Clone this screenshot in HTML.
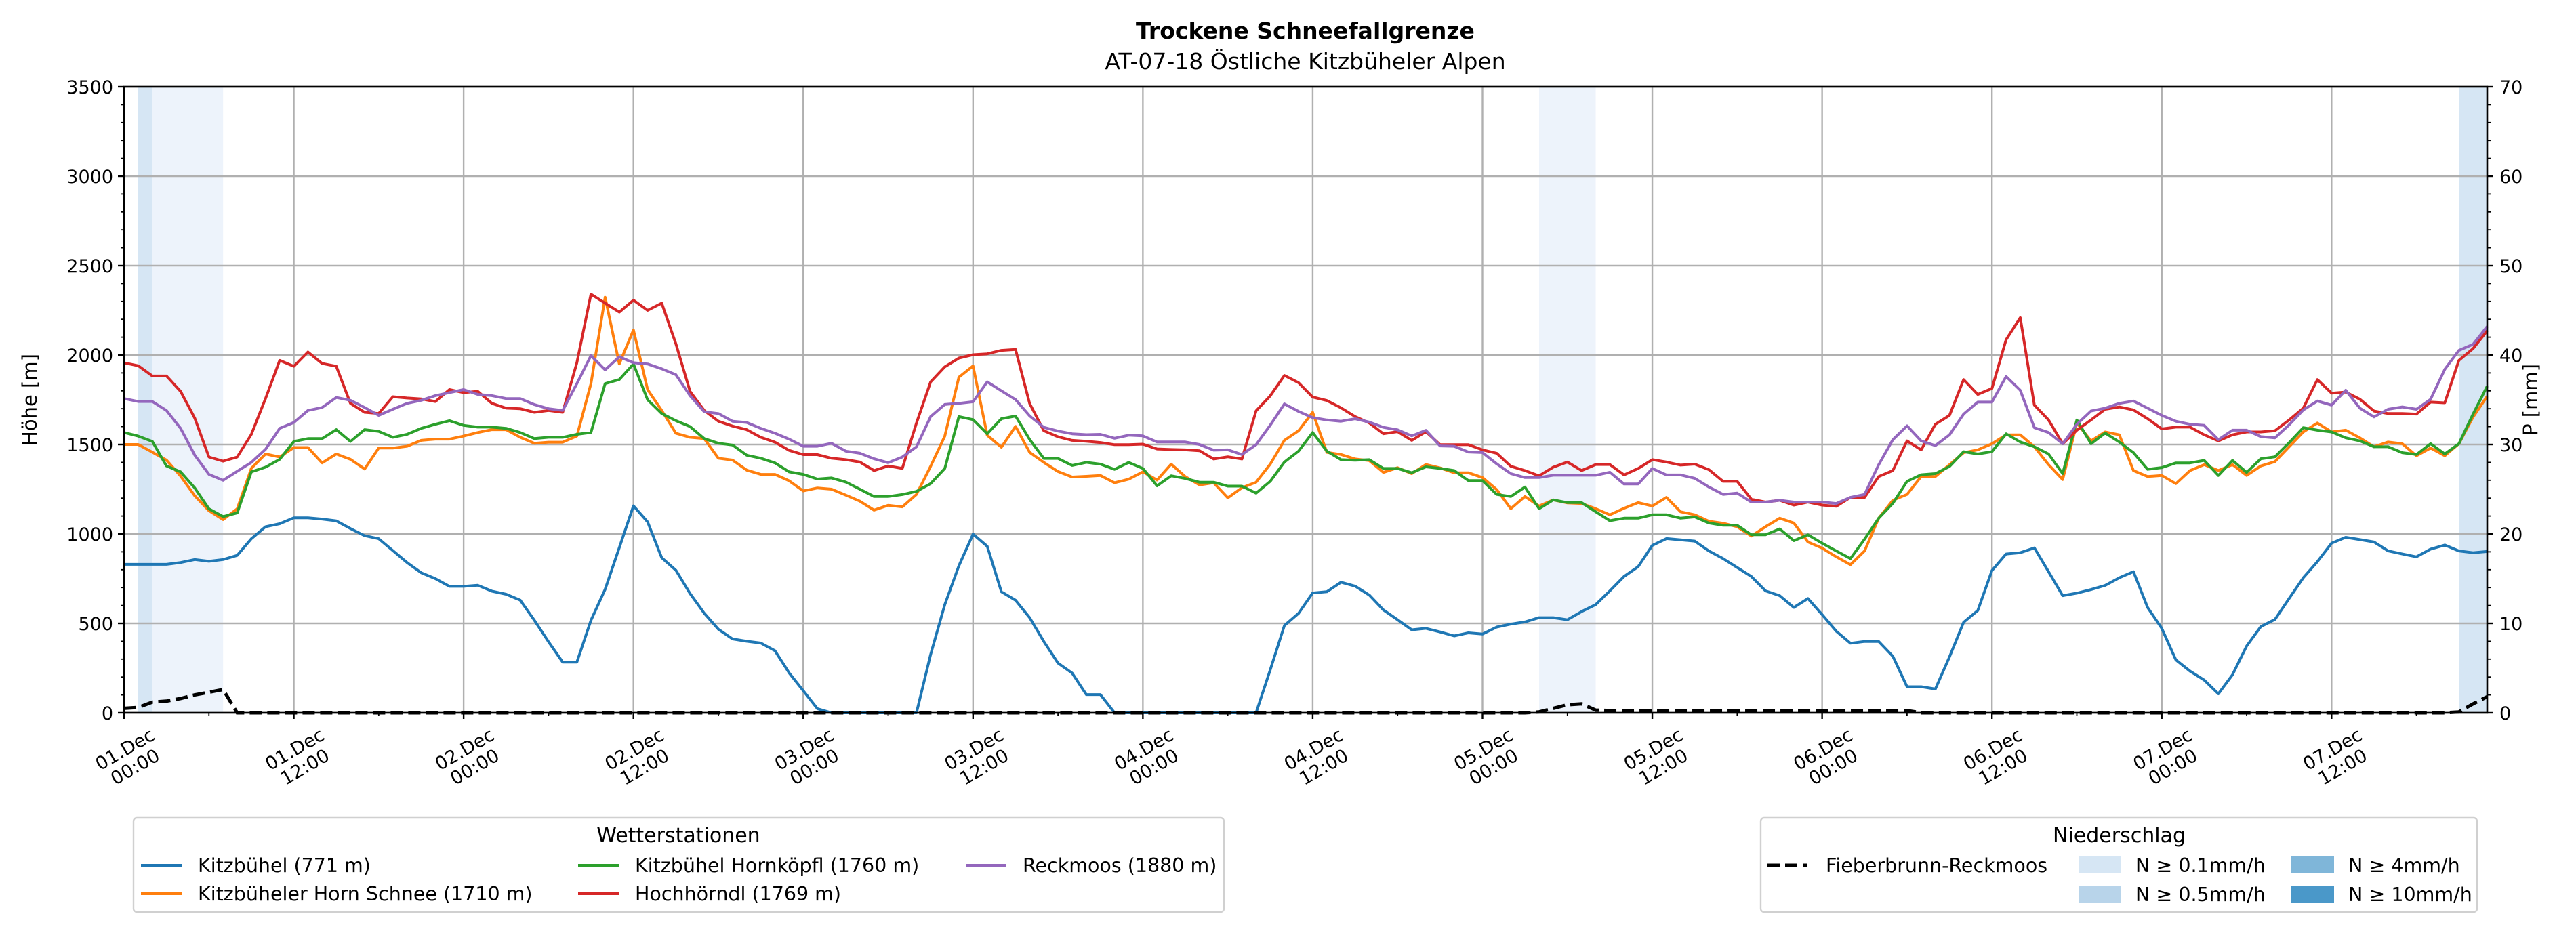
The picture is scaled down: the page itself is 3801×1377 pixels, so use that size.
<!DOCTYPE html>
<html><head><meta charset="utf-8">
<style>
html,body{margin:0;padding:0;background:#fff;}
svg{display:block;font-family:"DejaVu Sans","Liberation Sans",sans-serif;}
</style></head>
<body>
<svg id="chart" xmlns="http://www.w3.org/2000/svg" width="3801" height="1377" viewBox="0 0 3801 1377">
<rect x="0" y="0" width="3801" height="1377" fill="#fff"/>
<text x="1926" y="57" text-anchor="middle" font-size="33" font-weight="bold">Trockene Schneefallgrenze</text>
<text x="1926" y="102" text-anchor="middle" font-size="33">AT-07-18 Östliche Kitzbüheler Alpen</text>
<g id="plot"></g>
</svg>
<script>
const hours = [];
for (let i = 0; i <= 167; i++) hours.push(i);
const xTickLabels = ["01.Dec|00:00","01.Dec|12:00","02.Dec|00:00","02.Dec|12:00","03.Dec|00:00","03.Dec|12:00","04.Dec|00:00","04.Dec|12:00","05.Dec|00:00","05.Dec|12:00","06.Dec|00:00","06.Dec|12:00","07.Dec|00:00","07.Dec|12:00"];
const yTicks = [0,500,1000,1500,2000,2500,3000,3500];
const pTicks = [0,10,20,30,40,50,60,70];
const stationNames = ["Kitzbühel (771 m)","Kitzbüheler Horn Schnee (1710 m)","Kitzbühel Hornköpfl (1760 m)","Hochhörndl (1769 m)","Reckmoos (1880 m)"];
const kitzbuehel = [830,830,830,830,840,857,847,857,880,973,
1040,1057,1090,1090,1083,1073,1030,990,973,907,
840,783,750,707,707,713,680,663,630,517,
397,283,283,517,690,923,1157,1067,867,797,
667,557,467,413,400,390,347,223,123,23,
0,0,0,0,0,0,0,326,605,822,
999,931,677,629,532,399,278,222,102,102,
0,0,0,0,0,0,0,0,0,0,
0,240,488,556,670,677,730,708,658,575,
520,464,472,452,430,447,440,479,496,508,
532,532,520,566,605,682,762,817,936,974,
967,960,905,862,812,762,682,655,589,639,
549,456,389,399,399,316,146,146,133,313,
506,572,795,888,895,922,789,655,669,689,
712,755,789,589,472,296,233,183,106,213,
373,482,522,639,755,845,948,981,968,955,
905,888,872,915,938,905,895,902];
const hornSchnee = [1500,1500,1457,1413,1323,1213,1130,1080,1140,1367,
1447,1430,1483,1483,1397,1447,1417,1363,1480,1480,
1490,1523,1530,1530,1547,1567,1583,1583,1540,1507,
1513,1513,1547,1840,2323,1950,2140,1807,1690,1563,
1540,1533,1423,1413,1357,1333,1333,1297,1240,1257,
1250,1217,1183,1133,1160,1151,1221,1378,1547,1876,
1939,1552,1485,1601,1456,1400,1349,1318,1322,1327,
1286,1306,1347,1301,1390,1320,1274,1286,1202,1258,
1289,1390,1523,1577,1680,1456,1444,1419,1410,1344,
1370,1337,1388,1369,1342,1342,1315,1248,1141,1209,
1156,1190,1173,1170,1141,1107,1143,1175,1156,1204,
1124,1107,1071,1060,1040,988,1040,1088,1061,955,
921,872,828,905,1088,1188,1221,1321,1321,1387,
1454,1470,1504,1554,1554,1487,1387,1304,1620,1520,
1570,1554,1354,1321,1327,1281,1354,1387,1354,1387,
1327,1380,1404,1487,1570,1620,1570,1580,1537,1487,
1514,1504,1437,1480,1437,1504,1653,1770];
const hornkoepfl = [1567,1547,1517,1380,1347,1257,1140,1097,1117,1347,
1373,1417,1517,1533,1533,1583,1517,1583,1573,1540,
1557,1590,1613,1633,1607,1597,1597,1590,1567,1533,
1540,1540,1557,1567,1840,1863,1950,1750,1673,1633,
1600,1533,1507,1497,1440,1423,1397,1347,1333,1307,
1313,1290,1250,1209,1209,1220,1238,1281,1366,1656,
1639,1560,1644,1659,1528,1422,1422,1383,1400,1390,
1361,1400,1366,1269,1325,1310,1289,1289,1267,1267,
1228,1294,1402,1463,1567,1463,1415,1412,1415,1366,
1366,1342,1375,1366,1354,1298,1298,1221,1209,1262,
1141,1190,1175,1175,1124,1074,1088,1088,1107,1107,
1088,1095,1061,1048,1048,995,995,1028,962,995,
948,905,862,971,1088,1171,1294,1331,1337,1377,
1460,1447,1460,1560,1514,1487,1447,1337,1637,1504,
1564,1514,1454,1361,1371,1397,1397,1411,1327,1411,
1344,1420,1431,1510,1594,1580,1570,1537,1520,1487,
1487,1454,1444,1504,1447,1504,1670,1826];
const hochhoerndl = [1957,1940,1883,1883,1797,1647,1430,1407,1430,1557,
1757,1970,1937,2017,1953,1937,1730,1680,1673,1767,
1760,1755,1740,1807,1790,1797,1730,1703,1700,1680,
1690,1680,1957,2340,2290,2240,2307,2250,2290,2063,
1797,1690,1630,1603,1583,1540,1513,1467,1443,1443,
1423,1415,1402,1354,1380,1366,1620,1850,1934,1983,
2002,2007,2026,2031,1729,1577,1543,1523,1518,1511,
1499,1499,1502,1475,1472,1470,1465,1419,1431,1419,
1688,1772,1886,1845,1765,1746,1705,1656,1620,1560,
1572,1523,1572,1499,1499,1499,1470,1451,1378,1354,
1325,1373,1402,1354,1388,1388,1330,1366,1415,1402,
1385,1390,1359,1294,1294,1194,1178,1188,1161,1178,
1161,1154,1204,1204,1321,1354,1520,1470,1613,1663,
1863,1780,1813,2086,2209,1720,1637,1504,1580,1637,
1697,1710,1693,1644,1587,1597,1597,1554,1520,1554,
1570,1570,1577,1637,1703,1863,1787,1793,1753,1687,
1673,1673,1670,1737,1733,1970,2036,2136];
const reckmoos = [1757,1740,1740,1690,1590,1440,1333,1300,1350,1400,
1473,1590,1623,1690,1707,1763,1747,1707,1663,1697,
1730,1747,1773,1790,1807,1780,1773,1757,1757,1723,
1700,1690,1840,1997,1917,1990,1957,1950,1923,1890,
1773,1683,1673,1630,1623,1590,1563,1530,1490,1490,
1507,1463,1451,1420,1398,1430,1487,1656,1724,1730,
1739,1850,1800,1751,1660,1596,1575,1560,1555,1557,
1535,1552,1548,1514,1514,1514,1500,1468,1470,1444,
1499,1608,1727,1685,1650,1637,1630,1644,1625,1596,
1582,1548,1579,1492,1490,1458,1455,1392,1337,1315,
1315,1328,1328,1328,1328,1345,1279,1279,1366,1330,
1330,1311,1262,1221,1228,1178,1178,1188,1178,1178,
1178,1170,1204,1221,1387,1527,1604,1520,1494,1554,
1670,1737,1737,1880,1803,1594,1567,1504,1613,1687,
1703,1730,1743,1703,1663,1630,1613,1607,1527,1580,
1580,1544,1537,1610,1693,1743,1720,1803,1703,1654,
1697,1710,1697,1753,1920,2026,2060,2160];
const precipHours = [0,1,2,3,4,5,6,7,8,99,100,101,102,103,104,105,126,127,164,165,166,167];
const precipValues = [0.5,0.6,1.2,1.3,1.6,2.0,2.3,2.6,0,0,0.1,0.5,0.9,1.0,0.3,0.25,0.25,0,0,0.1,1.0,1.8];
const bandStart = [1,2,100,165];
const bandEnd = [2,7,104,167];
const bandLevel = [1,0,0,1];

const NS = "http://www.w3.org/2000/svg";
const L = 183, R = 3670, T = 128, B = 1052;
const XMAX = 167, YMAX = 3500, PMAX = 70;
const xs = h => L + (h / XMAX) * (R - L);
const ys = v => B - (v / YMAX) * (B - T);
const ps = v => B - (v / PMAX) * (B - T);
const plot = document.getElementById('plot');
function mk(tag, attrs, parent) {
  const e = document.createElementNS(NS, tag);
  for (const k in attrs) e.setAttribute(k, attrs[k]);
  (parent || plot).appendChild(e);
  return e;
}
const bandColors = ["#edf3fb", "#d6e6f4"];
bandStart.forEach((s, i) => {
  const r = mk('rect', {x: xs(s), y: T, width: xs(bandEnd[i]) - xs(s), height: B - T, fill: bandColors[bandLevel[i]]});
  
  
});
for (let i = 0; i < xTickLabels.length; i++) {
  const x = xs(i * 12);
  const g = mk('line', {x1: x, x2: x, y1: T, y2: B, stroke: "#b0b0b0", "stroke-width": 2.4});
  
  
}
yTicks.forEach(v => {
  const g = mk('line', {x1: L, x2: R, y1: ys(v), y2: ys(v), stroke: "#b0b0b0", "stroke-width": 2.4});
  
  
});
const series = [kitzbuehel, hornSchnee, hornkoepfl, hochhoerndl, reckmoos];
const colors = ["#1f77b4", "#ff7f0e", "#2ca02c", "#d62728", "#9467bd"];
const seriesNames = ["series-kitzbuehel", "series-horn-schnee", "series-hornkoepfl", "series-hochhoerndl", "series-reckmoos"];
series.forEach((arr, si) => {
  const d = arr.map((v, i) => (i ? 'L' : 'M') + xs(hours[i]).toFixed(1) + ' ' + ys(v).toFixed(1)).join(' ');
  const p = mk('path', {d: d, fill: "none", stroke: colors[si], "stroke-width": 4, "stroke-linejoin": "round"});
  
  
});
const pd = precipHours.map((h, i) => (i ? 'L' : 'M') + xs(h).toFixed(1) + ' ' + ps(precipValues[i]).toFixed(1)).join(' ');
const pp = mk('path', {d: pd, fill: "none", stroke: "#000", "stroke-width": 5, "stroke-dasharray": "18 8"});


const frame = mk('rect', {x: L, y: T, width: R - L, height: B - T, fill: "none", stroke: "#000", "stroke-width": 2.6});


for (let v = 0; v <= YMAX; v += 100) {
  const major = v % 500 === 0;
  const t = mk('line', {x1: L, x2: L - (major ? 9 : 5), y1: ys(v), y2: ys(v), stroke: "#000", "stroke-width": major ? 2.4 : 1.8});
  
  
}
yTicks.forEach(v => {
  const t = mk('text', {x: L - 16, y: ys(v) + 10, "text-anchor": "end", "font-size": 27});
  t.textContent = v;
  
  
});
for (let v = 0; v <= PMAX; v += 2) {
  const major = v % 10 === 0;
  const t = mk('line', {x1: R, x2: R + (major ? 9 : 5), y1: ps(v), y2: ps(v), stroke: "#000", "stroke-width": major ? 2.4 : 1.8});
  
  
}
pTicks.forEach(v => {
  const t = mk('text', {x: R + 18, y: ps(v) + 10, "text-anchor": "start", "font-size": 27});
  t.textContent = v;
  
  
});
for (let h = 0; h <= XMAX; h += 6) {
  const major = h % 12 === 0;
  const t = mk('line', {x1: xs(h), x2: xs(h), y1: B, y2: B + (major ? 9 : 5), stroke: "#000", "stroke-width": major ? 2.4 : 1.8});
  
  
}
xTickLabels.forEach((lab, i) => {
  const cx = xs(i * 12) + 6, cy = 1114;
  const parts = lab.split('|');
  const t = mk('text', {transform: `translate(${cx},${cy}) rotate(-30)`, "text-anchor": "middle", "font-size": 27});
  
  
  const a = mk('tspan', {x: 0, y: 0}, t); a.textContent = parts[0];
  const b = mk('tspan', {x: 0, y: 30}, t); b.textContent = parts[1];
});
const yl = mk('text', {transform: "translate(54,590) rotate(-90)", "text-anchor": "middle", "font-size": 29});
yl.textContent = "Höhe [m]";


const pl = mk('text', {transform: "translate(3744,590) rotate(-90)", "text-anchor": "middle", "font-size": 29});
pl.textContent = "P [mm]";


const lg1 = mk('g', {});


mk('rect', {x: 197, y: 1207, width: 1609, height: 139, rx: 5, fill: "#fff", stroke: "#d0d0d0", "stroke-width": 2.4}, lg1);
const lt1 = mk('text', {x: 1001, y: 1243, "text-anchor": "middle", "font-size": 30}, lg1);
lt1.textContent = "Wetterstationen";
const entryX = [208, 208, 853, 853, 1425];
const entryY = [1277, 1319, 1277, 1319, 1277];
const order = [0, 1, 2, 3, 4];
order.forEach((si, k) => {
  const g = mk('g', {}, lg1);
  
  
  mk('line', {x1: entryX[k], x2: entryX[k] + 60, y1: entryY[k], y2: entryY[k], stroke: colors[si], "stroke-width": 4}, g);
  const t = mk('text', {x: entryX[k] + 84, y: entryY[k] + 10, "font-size": 28.5}, g);
  t.textContent = stationNames[si];
});
const lg2 = mk('g', {});


mk('rect', {x: 2598, y: 1207, width: 1057, height: 139, rx: 5, fill: "#fff", stroke: "#d0d0d0", "stroke-width": 2.4}, lg2);
const lt2 = mk('text', {x: 3127, y: 1243, "text-anchor": "middle", "font-size": 30}, lg2);
lt2.textContent = "Niederschlag";
const dl = mk('g', {}, lg2);


mk('line', {x1: 2608, x2: 2666, y1: 1277, y2: 1277, stroke: "#000", "stroke-width": 5, "stroke-dasharray": "18 8"}, dl);
const dt = mk('text', {x: 2694, y: 1287, "font-size": 28.5}, dl);
dt.textContent = "Fieberbrunn-Reckmoos";
const patchLabels = ["N ≥ 0.1mm/h", "N ≥ 0.5mm/h", "N ≥ 4mm/h", "N ≥ 10mm/h"];
const patchColors = ["#d6e6f4", "#b8d4ea", "#7fb6d9", "#4a98c9"];
const patchX = [3067, 3067, 3381, 3381];
const patchY = [1264, 1307, 1264, 1307];
patchLabels.forEach((lab, i) => {
  const g = mk('g', {}, lg2);
  
  
  mk('rect', {x: patchX[i], y: patchY[i], width: 63, height: 25, fill: patchColors[i]}, g);
  const t = mk('text', {x: patchX[i] + 84, y: patchY[i] + 23, "font-size": 28.5}, g);
  t.textContent = lab;
});
</script>
</body></html>
